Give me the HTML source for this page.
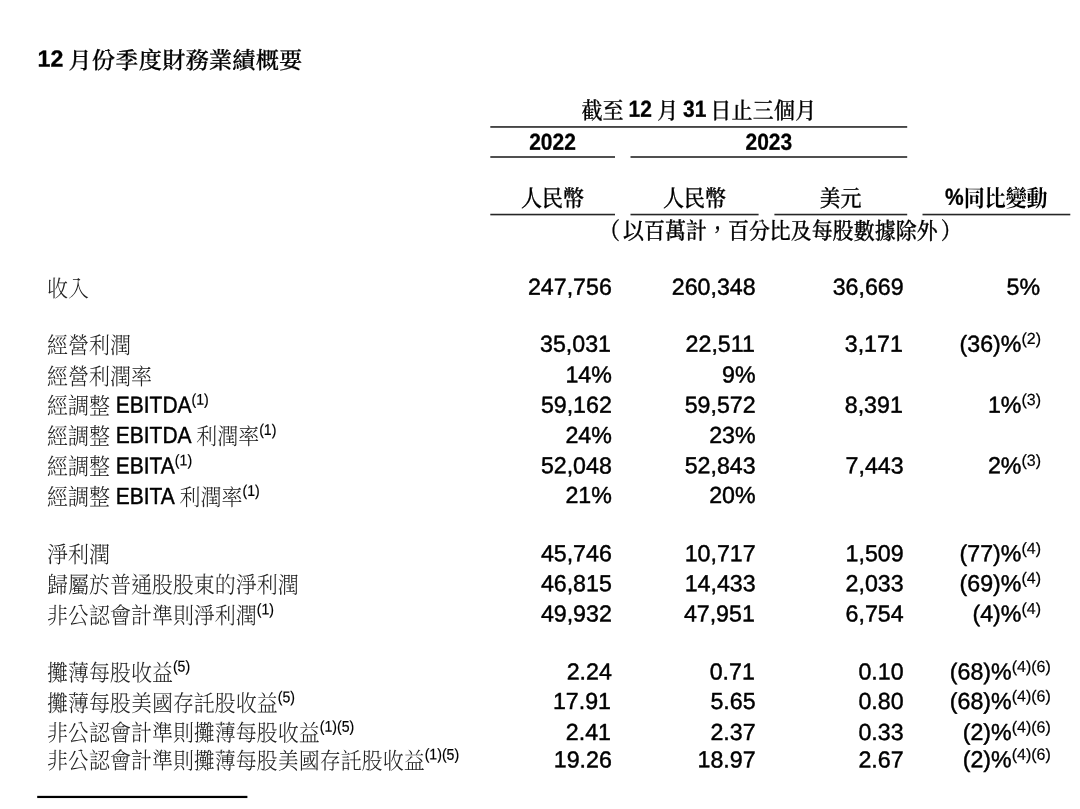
<!DOCTYPE html>
<html lang="zh-Hant">
<head>
<meta charset="utf-8">
<title>12 月份季度財務業績概要</title>
<style>
html,body{margin:0;padding:0;background:#fff;}
body{width:1080px;height:809px;overflow:hidden;}
svg{display:block;will-change:transform;}
text{font-family:"Liberation Sans","Noto Serif CJK SC",sans-serif;font-size:23.2px;fill:#000;white-space:pre;stroke:#000;stroke-width:.45px;stroke-linejoin:round;}
.cj{font-family:"Noto Serif CJK SC","Liberation Serif",serif;stroke:none;}
.lt{font-weight:300;fill:#222;}
.b{font-weight:700;stroke-width:.3px;}
.sp{stroke-width:.2px;}
.hc{font-weight:500;stroke:#000;stroke-width:.3px;}
.nt{font-weight:500;stroke:#000;stroke-width:.3px;}
rect{fill:#262626;}
</style>
</head>
<body>
<svg width="1080" height="809" viewBox="0 0 1080 809">
<rect width="1080" height="809" style="fill:#fff"/>
<text transform="matrix(1.0 0.0005 0 1 37.5 66.4)"><tspan class="b">12</tspan><tspan class="cj hc" style="letter-spacing:0.2px" dy="2.0" dx="-0.8"> 月份季度財務業績概要</tspan></text>
<text transform="matrix(0.905 0.0005 0 1 581.4 116.8)"><tspan class="cj hc" dy="1.9">截至</tspan><tspan class="b" dy="-1.9" dx="-0.66"> 12</tspan><tspan class="cj hc" dy="1.9"> 月</tspan><tspan class="b" dy="-1.9" dx="-1.1"> 31</tspan><tspan class="cj hc" dy="1.9" dx="-2.1" style="letter-spacing:0.33px"> 日止三個月</tspan></text>
<text class="b" transform="matrix(0.905 0.0005 0 1 552.5 149.8)" text-anchor="middle">2022</text>
<text class="b" transform="matrix(0.905 0.0005 0 1 768.8 149.8)" text-anchor="middle">2023</text>
<text class="cj hc" transform="matrix(0.905 0.0005 0 1 552.5 206.5)" text-anchor="middle">人民幣</text>
<text class="cj hc" transform="matrix(0.905 0.0005 0 1 694.5 206.5)" text-anchor="middle">人民幣</text>
<text class="cj hc" transform="matrix(0.905 0.0005 0 1 840.6 206.5)" text-anchor="middle">美元</text>
<text transform="matrix(0.905 0.0005 0 1 996.3 204.8)" text-anchor="middle"><tspan class="b">%</tspan><tspan class="cj" style="font-weight:700" dy="1.7">同比變動</tspan></text>
<text class="cj nt" transform="matrix(0.905 0.0005 0 1 599.0 239.0)">（</text>
<text class="cj nt" transform="matrix(0.905 0.0005 0 1 623.0 239.0)">以百萬計，百分比及每股數據除外</text>
<text class="cj nt" transform="matrix(0.905 0.0005 0 1 940.7 239.0)">）</text>
<rect x="490.3" y="126.15" width="416.9" height="1.6"/>
<rect x="490.3" y="156.2" width="124.7" height="1.6"/>
<rect x="630.5" y="156.2" width="276.7" height="1.6"/>
<rect x="490.3" y="213.75" width="124.7" height="1.6"/>
<rect x="630.5" y="213.75" width="128.1" height="1.6"/>
<rect x="774.4" y="213.75" width="132.8" height="1.6"/>
<rect x="922.5" y="213.75" width="147.8" height="1.6"/>
<rect x="37.2" y="795.85" width="210.2" height="2.2" style="fill:#000"/>
<text transform="matrix(0.905 0.0005 0 1 47.0 295.3)"><tspan class="cj lt" dy="1.4">收入</tspan></text>
<text transform="matrix(1.0 0.0005 0 1 611.8 294.8)" text-anchor="end">247,756</text>
<text transform="matrix(1.0 0.0005 0 1 755.6 294.8)" text-anchor="end">260,348</text>
<text transform="matrix(1.0 0.0005 0 1 903.6 294.8)" text-anchor="end">36,669</text>
<text transform="matrix(1.0 0.0005 0 1 1040.0 294.8)" text-anchor="end">5%</text>
<text transform="matrix(0.905 0.0005 0 1 47.0 352.1)"><tspan class="cj lt" dy="1.4">經營利潤</tspan></text>
<text transform="matrix(1.0 0.0005 0 1 611.0 351.7)" text-anchor="end">35,031</text>
<text transform="matrix(1.0 0.0005 0 1 754.8 351.7)" text-anchor="end">22,511</text>
<text transform="matrix(1.0 0.0005 0 1 902.8 351.7)" text-anchor="end">3,171</text>
<text transform="matrix(1.0 0.0005 0 1 1041.0 351.7)" text-anchor="end">(36)%<tspan class="sp" font-size="16.0" dy="-7.6">(2)</tspan></text>
<text transform="matrix(0.905 0.0005 0 1 47.0 383.4)"><tspan class="cj lt" dy="1.4">經營利潤率</tspan></text>
<text transform="matrix(1.0 0.0005 0 1 611.8 382.4)" text-anchor="end">14%</text>
<text transform="matrix(1.0 0.0005 0 1 755.6 382.4)" text-anchor="end">9%</text>
<text transform="matrix(0.905 0.0005 0 1 47.0 412.7)"><tspan class="cj lt" dy="1.4">經調整</tspan><tspan dy="-1.4"> EBITDA</tspan><tspan class="sp" font-size="15.6" dy="-8.0">(1)</tspan></text>
<text transform="matrix(1.0 0.0005 0 1 611.8 412.7)" text-anchor="end">59,162</text>
<text transform="matrix(1.0 0.0005 0 1 755.6 412.7)" text-anchor="end">59,572</text>
<text transform="matrix(1.0 0.0005 0 1 902.8 412.7)" text-anchor="end">8,391</text>
<text transform="matrix(1.0 0.0005 0 1 1041.0 412.7)" text-anchor="end">1%<tspan class="sp" font-size="16.0" dy="-7.6">(3)</tspan></text>
<text transform="matrix(0.905 0.0005 0 1 47.0 443.0)"><tspan class="cj lt" dy="1.4">經調整</tspan><tspan dy="-1.4"> EBITDA </tspan><tspan class="cj lt" dy="1.4">利潤率</tspan><tspan class="sp" font-size="15.6" dy="-9.4">(1)</tspan></text>
<text transform="matrix(1.0 0.0005 0 1 611.8 443.0)" text-anchor="end">24%</text>
<text transform="matrix(1.0 0.0005 0 1 755.6 443.0)" text-anchor="end">23%</text>
<text transform="matrix(0.905 0.0005 0 1 47.0 473.4)"><tspan class="cj lt" dy="1.4">經調整</tspan><tspan dy="-1.4"> EBITA</tspan><tspan class="sp" font-size="15.6" dy="-8.0">(1)</tspan></text>
<text transform="matrix(1.0 0.0005 0 1 611.8 473.4)" text-anchor="end">52,048</text>
<text transform="matrix(1.0 0.0005 0 1 755.6 473.4)" text-anchor="end">52,843</text>
<text transform="matrix(1.0 0.0005 0 1 903.6 473.4)" text-anchor="end">7,443</text>
<text transform="matrix(1.0 0.0005 0 1 1041.0 473.4)" text-anchor="end">2%<tspan class="sp" font-size="16.0" dy="-7.6">(3)</tspan></text>
<text transform="matrix(0.905 0.0005 0 1 47.0 503.9)"><tspan class="cj lt" dy="1.4">經調整</tspan><tspan dy="-1.4"> EBITA </tspan><tspan class="cj lt" dy="1.4">利潤率</tspan><tspan class="sp" font-size="15.6" dy="-9.4">(1)</tspan></text>
<text transform="matrix(1.0 0.0005 0 1 611.8 503.0)" text-anchor="end">21%</text>
<text transform="matrix(1.0 0.0005 0 1 755.6 503.0)" text-anchor="end">20%</text>
<text transform="matrix(0.905 0.0005 0 1 47.0 561.3)"><tspan class="cj lt" dy="1.4">淨利潤</tspan></text>
<text transform="matrix(1.0 0.0005 0 1 611.8 561.3)" text-anchor="end">45,746</text>
<text transform="matrix(1.0 0.0005 0 1 755.6 561.3)" text-anchor="end">10,717</text>
<text transform="matrix(1.0 0.0005 0 1 903.6 561.3)" text-anchor="end">1,509</text>
<text transform="matrix(1.0 0.0005 0 1 1041.0 561.3)" text-anchor="end">(77)%<tspan class="sp" font-size="16.0" dy="-7.6">(4)</tspan></text>
<text transform="matrix(0.905 0.0005 0 1 47.0 591.6)"><tspan class="cj lt" dy="1.4">歸屬於普通股股東的淨利潤</tspan></text>
<text transform="matrix(1.0 0.0005 0 1 611.8 591.2)" text-anchor="end">46,815</text>
<text transform="matrix(1.0 0.0005 0 1 755.6 591.2)" text-anchor="end">14,433</text>
<text transform="matrix(1.0 0.0005 0 1 903.6 591.2)" text-anchor="end">2,033</text>
<text transform="matrix(1.0 0.0005 0 1 1041.0 591.2)" text-anchor="end">(69)%<tspan class="sp" font-size="16.0" dy="-7.6">(4)</tspan></text>
<text transform="matrix(0.905 0.0005 0 1 47.0 622.3)"><tspan class="cj lt" dy="1.4">非公認會計準則淨利潤</tspan><tspan class="sp" font-size="15.6" dy="-9.4">(1)</tspan></text>
<text transform="matrix(1.0 0.0005 0 1 611.8 621.5)" text-anchor="end">49,932</text>
<text transform="matrix(1.0 0.0005 0 1 754.8 621.5)" text-anchor="end">47,951</text>
<text transform="matrix(1.0 0.0005 0 1 903.6 621.5)" text-anchor="end">6,754</text>
<text transform="matrix(1.0 0.0005 0 1 1041.0 621.5)" text-anchor="end">(4)%<tspan class="sp" font-size="16.0" dy="-7.6">(4)</tspan></text>
<text transform="matrix(0.905 0.0005 0 1 47.0 679.5)"><tspan class="cj lt" dy="1.4">攤薄每股收益</tspan><tspan class="sp" font-size="15.6" dy="-9.4">(5)</tspan></text>
<text transform="matrix(1.0 0.0005 0 1 611.8 679.5)" text-anchor="end">2.24</text>
<text transform="matrix(1.0 0.0005 0 1 754.8 679.5)" text-anchor="end">0.71</text>
<text transform="matrix(1.0 0.0005 0 1 903.6 679.5)" text-anchor="end">0.10</text>
<text transform="matrix(1.0 0.0005 0 1 1050.8 679.5)" text-anchor="end">(68)%<tspan class="sp" font-size="16.0" dy="-7.6">(4)(6)</tspan></text>
<text transform="matrix(0.905 0.0005 0 1 47.0 710.0)"><tspan class="cj lt" dy="1.4">攤薄每股美國存託股收益</tspan><tspan class="sp" font-size="15.6" dy="-9.4">(5)</tspan></text>
<text transform="matrix(1.0 0.0005 0 1 611.0 709.0)" text-anchor="end">17.91</text>
<text transform="matrix(1.0 0.0005 0 1 755.6 709.0)" text-anchor="end">5.65</text>
<text transform="matrix(1.0 0.0005 0 1 903.6 709.0)" text-anchor="end">0.80</text>
<text transform="matrix(1.0 0.0005 0 1 1050.8 709.0)" text-anchor="end">(68)%<tspan class="sp" font-size="16.0" dy="-7.6">(4)(6)</tspan></text>
<text transform="matrix(0.905 0.0005 0 1 47.0 739.6)"><tspan class="cj lt" dy="1.4">非公認會計準則攤薄每股收益</tspan><tspan class="sp" font-size="15.6" dy="-9.4">(1)(5)</tspan></text>
<text transform="matrix(1.0 0.0005 0 1 611.0 740.0)" text-anchor="end">2.41</text>
<text transform="matrix(1.0 0.0005 0 1 755.6 740.0)" text-anchor="end">2.37</text>
<text transform="matrix(1.0 0.0005 0 1 903.6 740.0)" text-anchor="end">0.33</text>
<text transform="matrix(1.0 0.0005 0 1 1050.8 740.0)" text-anchor="end">(2)%<tspan class="sp" font-size="16.0" dy="-7.6">(4)(6)</tspan></text>
<text transform="matrix(0.905 0.0005 0 1 47.0 767.4)"><tspan class="cj lt" dy="1.4">非公認會計準則攤薄每股美國存託股收益</tspan><tspan class="sp" font-size="15.6" dy="-9.4">(1)(5)</tspan></text>
<text transform="matrix(1.0 0.0005 0 1 611.8 767.4)" text-anchor="end">19.26</text>
<text transform="matrix(1.0 0.0005 0 1 755.6 767.4)" text-anchor="end">18.97</text>
<text transform="matrix(1.0 0.0005 0 1 903.6 767.4)" text-anchor="end">2.67</text>
<text transform="matrix(1.0 0.0005 0 1 1050.8 767.4)" text-anchor="end">(2)%<tspan class="sp" font-size="16.0" dy="-7.6">(4)(6)</tspan></text>
</svg>
</body>
</html>
